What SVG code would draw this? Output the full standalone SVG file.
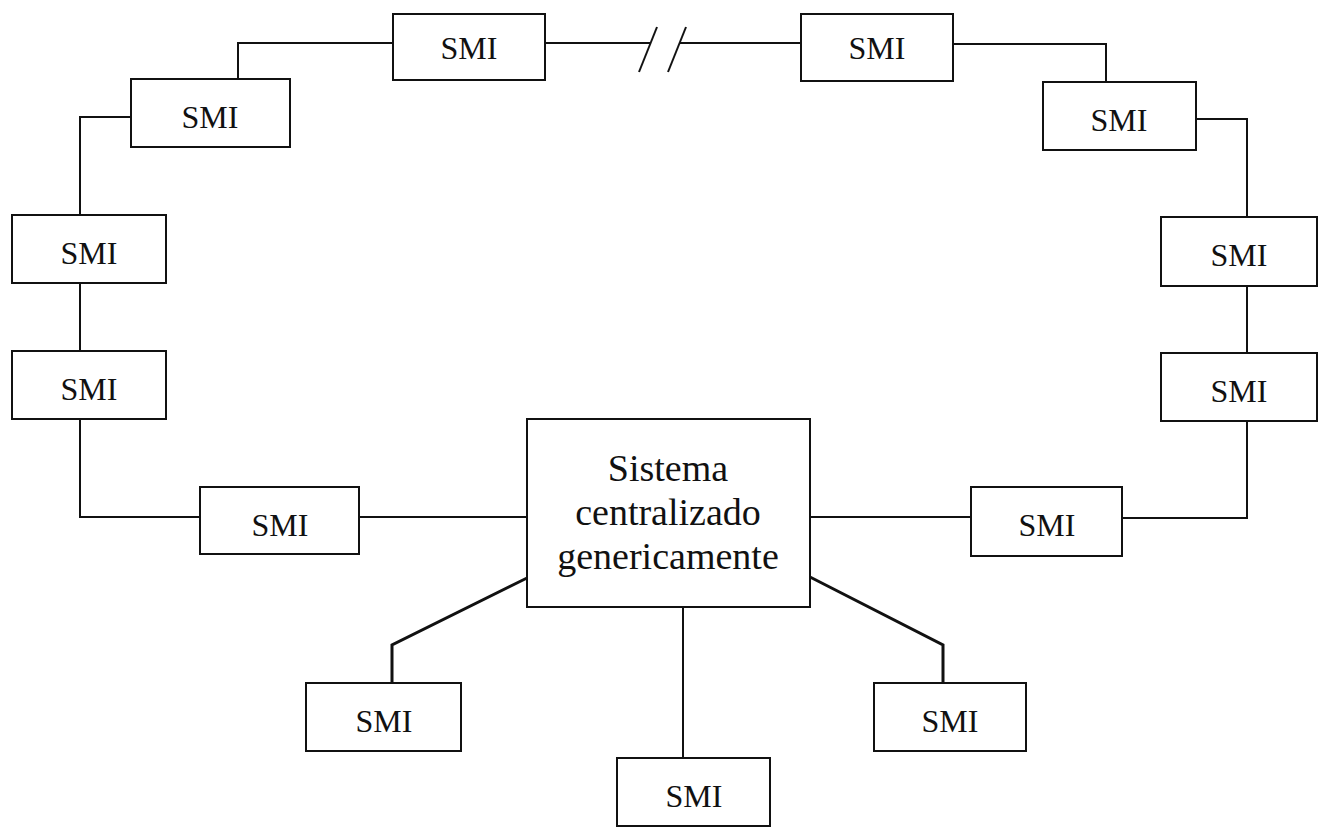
<svg xmlns="http://www.w3.org/2000/svg" width="1320" height="827" viewBox="0 0 1320 827">
  <style>
    .box { fill: #ffffff; stroke: #111111; stroke-width: 2; }
    .lbl { font-family: "Liberation Serif", "Times New Roman", serif; font-size: 32px; fill: #111111; text-anchor: middle; }
    .big { font-size: 38px; }
    .wire { fill: none; stroke: #111111; stroke-width: 2; stroke-linejoin: miter; }
    .thick { stroke-width: 3; }
  </style>
  <rect width="1320" height="827" fill="#ffffff"/>

  <!-- ring and star links -->
  <g id="connectors">
    <polyline class="wire" points="393,43 238,43 238,79"/>
    <polyline class="wire" points="131,117 80,117 80,215"/>
    <line class="wire" x1="80" y1="283" x2="80" y2="351"/>
    <polyline class="wire" points="80,419 80,517 200,517"/>
    <line class="wire" x1="359" y1="517" x2="527" y2="517"/>
    <line class="wire" x1="810" y1="517" x2="971" y2="517"/>
    <polyline class="wire" points="1122,518 1247,518 1247,421"/>
    <line class="wire" x1="1247" y1="353" x2="1247" y2="286"/>
    <polyline class="wire" points="1247,217 1247,119 1196,119"/>
    <polyline class="wire" points="1106,82 1106,44 953,44"/>
    <!-- interrupted segment between the two top units -->
    <line class="wire" x1="545" y1="43" x2="650" y2="43"/>
    <line class="wire" x1="680" y1="43" x2="801" y2="43"/>
    <line class="wire" x1="639" y1="72" x2="657" y2="27"/>
    <line class="wire" x1="668" y1="72" x2="686" y2="27"/>
    <!-- star branches below the central system -->
    <polyline class="wire thick" points="527,578 392,645 392,683"/>
    <line class="wire" x1="683" y1="607" x2="683" y2="758"/>
    <polyline class="wire thick" points="810,577 943,645 943,683"/>
  </g>

  <g id="central">
    <rect class="box" x="527" y="419" width="283" height="188"/>
    <text class="lbl big" x="668" y="481">Sistema</text>
    <text class="lbl big" x="668" y="525">centralizado</text>
    <text class="lbl big" x="668" y="569">genericamente</text>
  </g>

  <g id="smi-top-a"><rect class="box" x="393" y="14" width="152" height="66"/><text class="lbl" x="469" y="59">SMI</text></g>
  <g id="smi-top-b"><rect class="box" x="801" y="14" width="152" height="67"/><text class="lbl" x="877" y="59">SMI</text></g>
  <g id="smi-left-1"><rect class="box" x="131" y="79" width="159" height="68"/><text class="lbl" x="210" y="128">SMI</text></g>
  <g id="smi-right-1"><rect class="box" x="1043" y="82" width="153" height="68"/><text class="lbl" x="1119" y="131">SMI</text></g>
  <g id="smi-left-2"><rect class="box" x="12" y="215" width="154" height="68"/><text class="lbl" x="89" y="264">SMI</text></g>
  <g id="smi-left-3"><rect class="box" x="12" y="351" width="154" height="68"/><text class="lbl" x="89" y="400">SMI</text></g>
  <g id="smi-right-2"><rect class="box" x="1161" y="217" width="156" height="69"/><text class="lbl" x="1239" y="266">SMI</text></g>
  <g id="smi-right-3"><rect class="box" x="1161" y="353" width="156" height="68"/><text class="lbl" x="1239" y="402">SMI</text></g>
  <g id="smi-left-4"><rect class="box" x="200" y="487" width="159" height="67"/><text class="lbl" x="280" y="536">SMI</text></g>
  <g id="smi-right-4"><rect class="box" x="971" y="487" width="151" height="69"/><text class="lbl" x="1047" y="536">SMI</text></g>
  <g id="smi-bottom-left"><rect class="box" x="306" y="683" width="155" height="68"/><text class="lbl" x="384" y="732">SMI</text></g>
  <g id="smi-bottom-mid"><rect class="box" x="617" y="758" width="153" height="68"/><text class="lbl" x="694" y="807">SMI</text></g>
  <g id="smi-bottom-right"><rect class="box" x="874" y="683" width="152" height="68"/><text class="lbl" x="950" y="732">SMI</text></g>
</svg>
